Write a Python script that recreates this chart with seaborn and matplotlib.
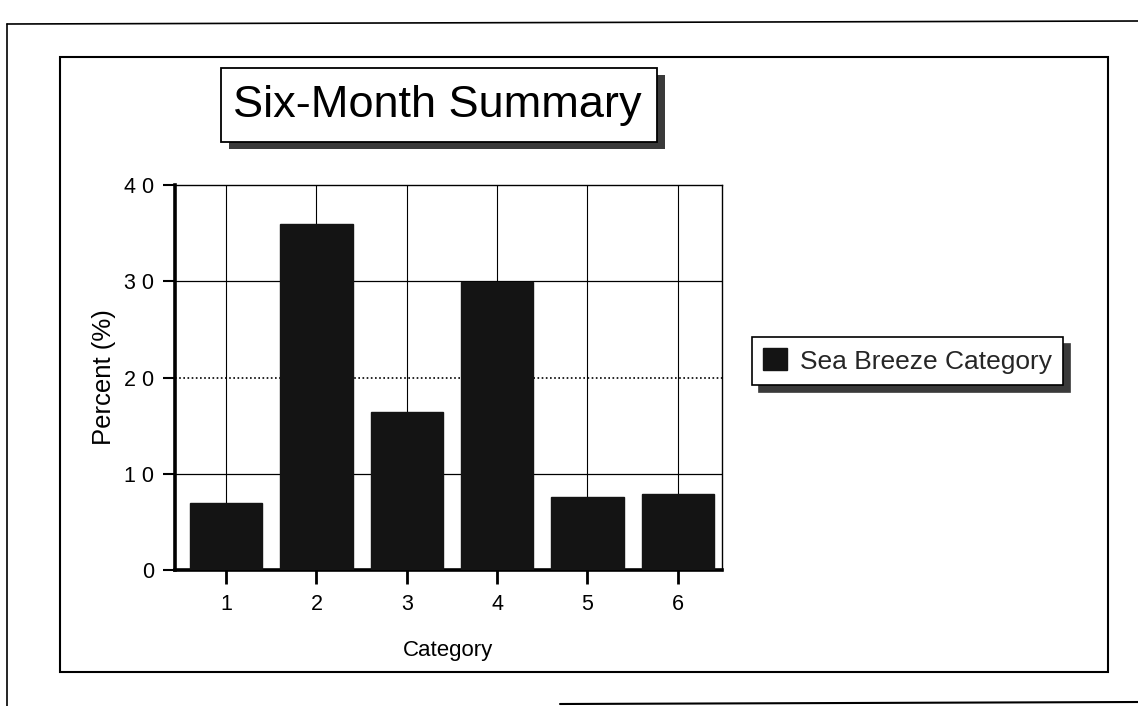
import matplotlib
matplotlib.use("Agg")
import matplotlib.pyplot as plt
import seaborn as sns
import pandas as pd
from matplotlib.patches import Rectangle
from matplotlib.lines import Line2D

# ---- data ----
categories = ["1", "2", "3", "4", "5", "6"]
percent = [7.0, 36.0, 16.4, 29.9, 7.6, 7.9]
ytick_values = [0, 10, 20, 30, 40]
ytick_labels = ["0", "1 0", "2 0", "3 0", "4 0"]
series_name = "Sea Breeze Category"
title_text = "Six-Month Summary"
xlabel_text = "Category"
ylabel_text = "Percent (%)"

sns.set_theme(style="white")
plt.rcParams['font.family'] = ['Liberation Sans', 'DejaVu Sans']

W, H = 1138, 706
fig = plt.figure(figsize=(W / 100, H / 100), dpi=100)
fig.patch.set_facecolor("white")


def fx(px):
    return px / W


def fy(py):
    return 1 - py / H


ax_left, ax_right, ax_top, ax_bottom = 175, 722, 185, 570
ax = fig.add_axes([fx(ax_left), fy(ax_bottom), fx(ax_right - ax_left), (ax_bottom - ax_top) / H])

df = pd.DataFrame({"Category": categories, "Percent": percent})
sns.barplot(data=df, x="Category", y="Percent", color="#141414", saturation=1,
            width=0.8, label=series_name, ax=ax, zorder=3, edgecolor="#141414")

ax.set_xlim(-0.565, 5.49)
ax.set_ylim(0, 40)
ax.set_yticks(ytick_values)
ax.set_yticklabels(ytick_labels, fontsize=15.5)
ax.tick_params(axis="x", labelsize=15.5, length=10, width=2, direction="out", pad=7, color="black")
ax.tick_params(axis="y", length=9, width=1.5, direction="out", pad=6, color="black")
ax.tick_params(left=True, bottom=True)

# grid
ax.xaxis.grid(True, color="black", linewidth=0.8, linestyle="-")
ax.yaxis.grid(False)
ax.set_axisbelow(True)
ax.axhline(10, color="black", linewidth=0.9, zorder=1)
ax.axhline(30, color="black", linewidth=0.9, zorder=1)
ax.axhline(20, color="black", linewidth=1.2, linestyle=(0, (1, 1.5)), zorder=1)

for side in ["left", "bottom"]:
    ax.spines[side].set_linewidth(2.6)
    ax.spines[side].set_color("black")
for side in ["top", "right"]:
    ax.spines[side].set_linewidth(1.0)
    ax.spines[side].set_color("black")
    ax.spines[side].set_visible(True)

ax.set_xlabel(xlabel_text, fontsize=16, labelpad=18, color="black")
ax.set_ylabel(ylabel_text, fontsize=18.5, labelpad=6, color="black")
for t in ax.get_xticklabels() + ax.get_yticklabels():
    t.set_color("black")

# legend
leg = ax.legend(loc="center left", bbox_to_anchor=(fx(752), fy(361)), bbox_transform=fig.transFigure,
                frameon=True, fancybox=False, edgecolor="black", fontsize=19,
                handlelength=0.9, handleheight=0.9, handletextpad=0.5, borderpad=0.42,
                borderaxespad=0, shadow={"ox": 5, "oy": -5, "color": "#3a3a3a", "alpha": 1})
leg.get_frame().set_linewidth(1.2)

# title box with shadow
tb_l, tb_t, tb_r, tb_b = 221, 68, 657, 142
fig.patches.append(Rectangle((fx(tb_l + 8), fy(tb_b + 7)), fx(tb_r - tb_l), (tb_b - tb_t) / H,
                             transform=fig.transFigure, facecolor="#3a3a3a", edgecolor="none", zorder=1))
fig.patches.append(Rectangle((fx(tb_l), fy(tb_b)), fx(tb_r - tb_l), (tb_b - tb_t) / H,
                             transform=fig.transFigure, facecolor="white", edgecolor="black",
                             linewidth=1.3, zorder=2))
fig.text(fx((tb_l + tb_r) / 2 - 2), fy((tb_t + tb_b) / 2 + 1), title_text, fontsize=32.5,
         ha="center", va="center", color="black", zorder=3)

# inner frame
fig.patches.append(Rectangle((fx(60), fy(672)), fx(1108 - 60), (672 - 57) / H,
                             transform=fig.transFigure, facecolor="none", edgecolor="black",
                             linewidth=1.5, zorder=0))
# outer frame (partial, page border)
fig.lines.append(Line2D([fx(7), fx(7)], [fy(24), fy(706)], transform=fig.transFigure, color="black", lw=1.2))
fig.lines.append(Line2D([fx(7), fx(1138)], [fy(24), fy(21)], transform=fig.transFigure, color="black", lw=1.2))
fig.lines.append(Line2D([fx(560), fx(1138)], [fy(704), fy(702)], transform=fig.transFigure, color="black", lw=1.5))

fig.savefig("out.png", dpi=100, facecolor="white")
